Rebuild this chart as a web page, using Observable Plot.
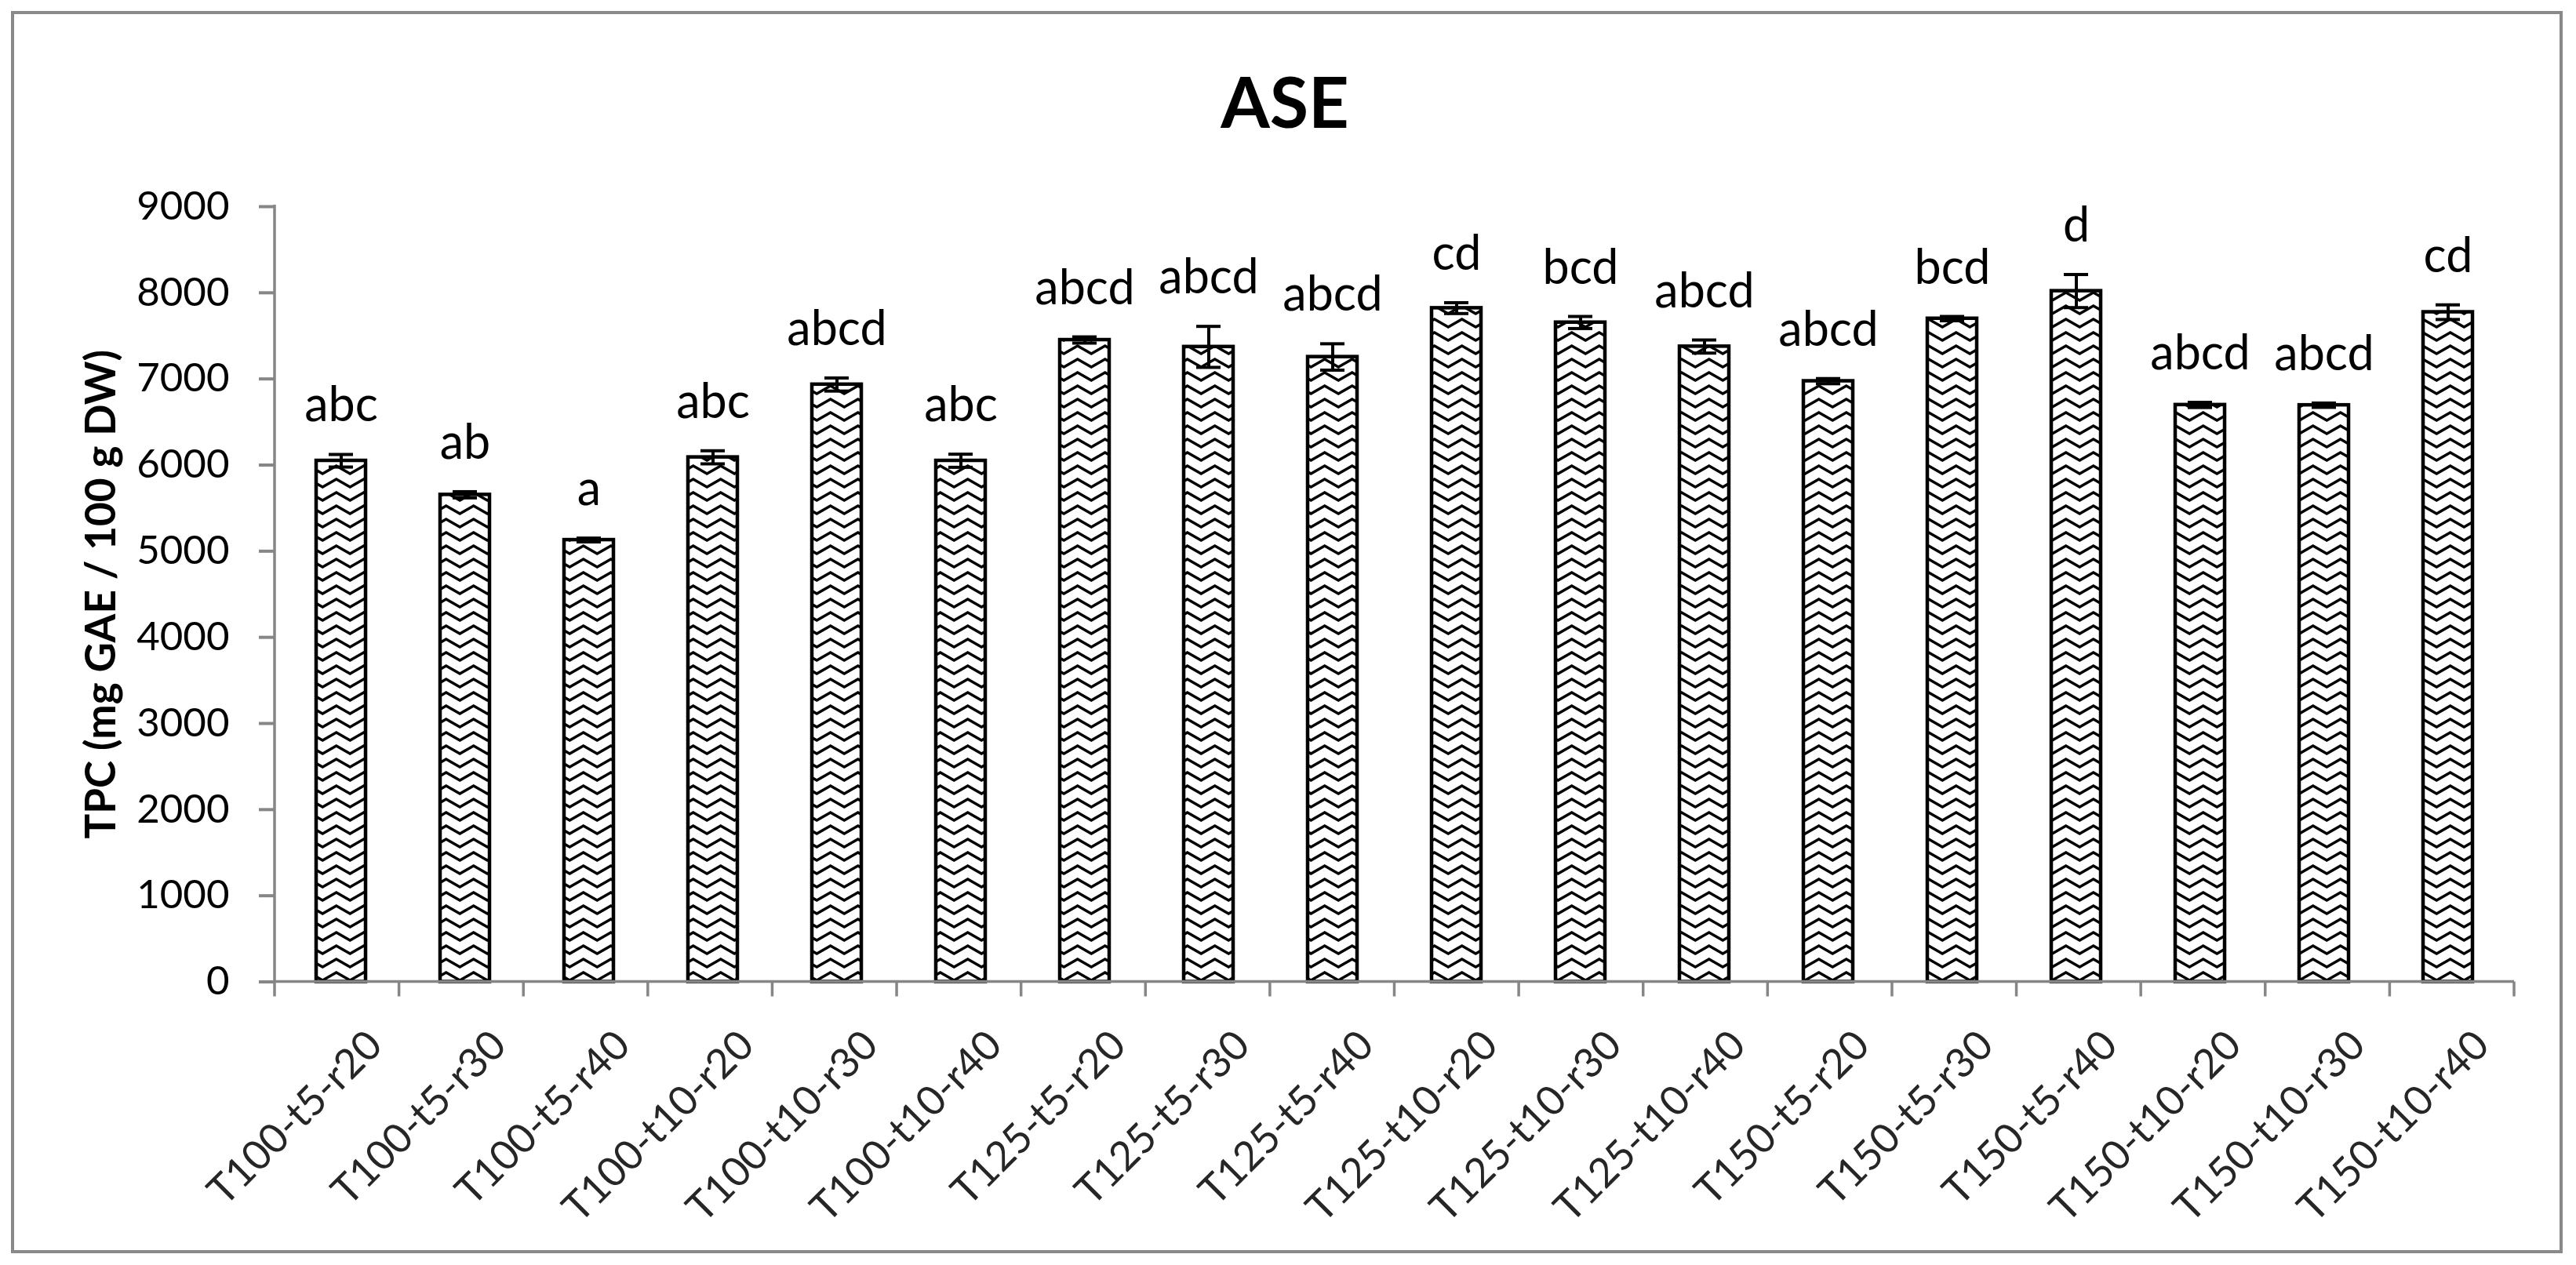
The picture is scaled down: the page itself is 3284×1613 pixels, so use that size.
<!DOCTYPE html>
<html>
<head>
<meta charset="utf-8">
<script src="https://cdn.jsdelivr.net/npm/d3@7"></script>
<script src="https://cdn.jsdelivr.net/npm/@observablehq/plot@0.6"></script>
<style>
  html, body { margin: 0; padding: 0; background: #ffffff; }
  #wrap { position: relative; width: 3284px; height: 1613px; overflow: hidden; background: #ffffff; font-family: Lato, "Open Sans", sans-serif; }
  #frame { position: absolute; left: 14px; top: 14px; width: 3245px; height: 1576px; border: 4px solid #898989; }
  #title { position: absolute; left: 0; top: 83px; width: 3276px; text-align: center; font: 700 90px/90px Lato, "Open Sans", sans-serif; color: #000; }
  #chart { position: absolute; left: 0; top: 200px; }
</style>
</head>
<body>
<div id="wrap">
  <div id="frame"></div>
  <div id="title"></div>
  <div id="chart"></div>
</div>
<script>
// ---- data ----
const title = "ASE";
const yLabel = "TPC (mg GAE / 100 g DW)";
const categories = [
  "T100-t5-r20", "T100-t5-r30", "T100-t5-r40",
  "T100-t10-r20", "T100-t10-r30", "T100-t10-r40",
  "T125-t5-r20", "T125-t5-r30", "T125-t5-r40",
  "T125-t10-r20", "T125-t10-r30", "T125-t10-r40",
  "T150-t5-r20", "T150-t5-r30", "T150-t5-r40",
  "T150-t10-r20", "T150-t10-r30", "T150-t10-r40"
];
const tpc = [6050, 5655, 5130, 6090, 6935, 6050, 7452, 7372, 7255, 7822, 7655, 7376, 6974, 7700, 8020, 6698, 6695, 7775];
const sd  = [73, 36, 22, 76, 76, 76, 36, 238, 153, 63, 70, 76, 30, 25, 192, 30, 25, 85];
const letters = ["abc", "ab", "a", "abc", "abcd", "abc", "abcd", "abcd", "abcd", "cd", "bcd", "abcd", "abcd", "bcd", "d", "abcd", "abcd", "cd"];
const yTicks = [0, 1000, 2000, 3000, 4000, 5000, 6000, 7000, 8000, 9000];

// table built from the arrays
const rows = categories.map((c, i) => ({cat: c, v: tpc[i], e: sd[i], lab: letters[i]}));

document.getElementById("title").textContent = title;

// axis lines + category boundary ticks (Excel style)
function axisLines(index, scales, values, dims) {
  const {width, marginLeft, marginRight} = dims;
  const y0 = scales.y(0), yTop = scales.y(d3.max(yTicks));
  const n = categories.length;
  const step = (width - marginLeft - marginRight) / n;
  const g = d3.create("svg:g").attr("stroke", "#868686").attr("stroke-width", 3.5).attr("fill", "none");
  g.append("line").attr("x1", marginLeft).attr("x2", marginLeft).attr("y1", yTop - 2).attr("y2", y0);
  g.append("line").attr("x1", marginLeft).attr("x2", width - marginRight).attr("y1", y0).attr("y2", y0);
  g.selectAll("line.b").data(d3.range(n + 1)).join("line")
    .attr("class", "b")
    .attr("x1", i => marginLeft + i * step).attr("x2", i => marginLeft + i * step)
    .attr("y1", y0).attr("y2", y0 + 19);
  return g.node();
}

const chart = Plot.plot({
  width: 3284,
  height: 1400,
  marginTop: 63,
  marginBottom: 348.5,
  marginLeft: 350,
  marginRight: 79,
  style: {fontFamily: "Lato, 'Open Sans', sans-serif", background: "transparent", overflow: "visible"},
  x: {type: "band", domain: categories, paddingInner: 0.6, paddingOuter: 0.3, axis: null},
  y: {domain: [0, 9000], axis: null},
  marks: [
    Plot.barY(rows, {x: "cat", y: "v", fill: "url(#zigzag)", stroke: "black", strokeWidth: 4.5}),
    Plot.ruleX(rows, {x: "cat", y1: d => d.v - d.e, y2: d => d.v + d.e, stroke: "black", strokeWidth: 4}),
    Plot.tickY(rows, {x: "cat", y: d => d.v + d.e, stroke: "black", strokeWidth: 4, insetLeft: 16, insetRight: 16}),
    Plot.tickY(rows, {x: "cat", y: d => d.v - d.e, stroke: "black", strokeWidth: 4, insetLeft: 16, insetRight: 16}),
    Plot.text(rows, {x: "cat", y: d => d.v + d.e, text: "lab", dy: -42, lineAnchor: "bottom", fontSize: 61, fill: "black"}),
    axisLines,
    Plot.axisY(yTicks, {tickSize: 20, tickPadding: 38, fontSize: 51, color: "black", stroke: "#868686", strokeWidth: 4, tickFormat: d => String(d), label: null}),
    Plot.text(categories, {x: d => d, frameAnchor: "bottom", rotate: -45, textAnchor: "end", lineAnchor: "bottom", dx: 55, dy: 84, fontSize: 52, fill: "#262626"}),
    Plot.text([yLabel], {text: d => d, frameAnchor: "left", textAnchor: "middle", lineAnchor: "middle", dx: -220, rotate: -90, fontWeight: "bold", fontSize: 53, fill: "black"})
  ]
});

// zigzag fill pattern
const defs = d3.create("svg:defs");
const pat = defs.append("pattern").attr("id", "zigzag").attr("patternUnits", "userSpaceOnUse").attr("width", 35).attr("height", 17);
pat.append("rect").attr("width", 35).attr("height", 17).attr("fill", "white");
pat.append("path").attr("d", "M-8.75,13 L8.75,3 L26.25,13 L43.75,3").attr("fill", "none").attr("stroke", "black").attr("stroke-width", 3.5).attr("stroke-linejoin", "miter");
chart.insertBefore(defs.node(), chart.firstChild);

document.getElementById("chart").appendChild(chart);
</script>
</body>
</html>
